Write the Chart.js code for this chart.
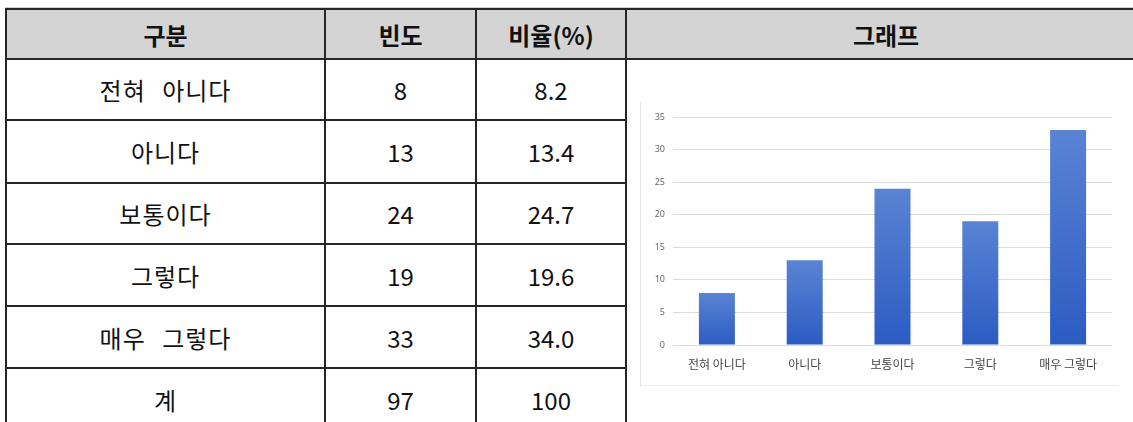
<!DOCTYPE html>
<html><head><meta charset="utf-8">
<script src="https://cdn.jsdelivr.net/npm/chart.js@4.4.1/dist/chart.umd.min.js"></script>
<style>
html,body{margin:0;padding:0;background:#fff;width:1133px;height:422px;overflow:hidden;position:relative;font-family:"Noto Sans CJK KR","Noto Sans",sans-serif;}
#topline{position:absolute;left:5px;top:7px;width:1140px;height:1px;background:#cfcfcf;}
table{position:absolute;left:5px;top:8px;border-collapse:collapse;table-layout:fixed;width:1140px;}
td,th{border:2px solid #262626;text-align:center;vertical-align:middle;padding:0;color:#111;font-size:24px;}
th{background:#d4d4d4;font-weight:700;}
td{font-weight:400;}
td.lab{word-spacing:10px;letter-spacing:1px;}
tr.last td{border-bottom:none;}
#chartBox{position:absolute;left:640px;top:102px;width:477px;height:283px;border-left:1px solid #e4e4e4;border-bottom:1px solid #ececec;background:#fff;}
</style></head>
<body>
<div id="topline"></div>
<table id="tbl">
<colgroup><col style="width:319px"><col style="width:151px"><col style="width:150px"><col style="width:520px"></colgroup>
<thead><tr style="height:50px"><th>구분</th><th>빈도</th><th>비율(%)</th><th>그래프</th></tr></thead>
<tbody id="tb"></tbody>
</table>
<div id="chartBox"><canvas id="c"></canvas></div>
<script>
const categories = ["전혀 아니다","아니다","보통이다","그렇다","매우 그렇다"];
const frequency = [8,13,24,19,33];
const percent = ["8.2","13.4","24.7","19.6","34.0"];
const totalLabel = "계";
const totalFrequency = "97";
const totalPercent = "100";
const rowHeights = [61,63,61,62,62,62];

const tb = document.getElementById('tb');
categories.forEach((c,i)=>{
  const tr = document.createElement('tr');
  tr.style.height = rowHeights[i]+'px';
  tr.innerHTML = `<td class="lab">${c}</td><td>${frequency[i]}</td><td>${percent[i]}</td>` + (i===0?`<td rowspan="6" style="border-bottom:none"></td>`:'');
  tb.appendChild(tr);
});
const trT = document.createElement('tr');
trT.className='last';
trT.style.height = rowHeights[5]+'px';
trT.innerHTML = `<td class="lab">${totalLabel}</td><td>${totalFrequency}</td><td>${totalPercent}</td>`;
tb.appendChild(trT);

function barGradient(ctx){
  const chart = ctx.chart;
  const ys = chart.scales && chart.scales.y;
  if(!ys || ctx.dataIndex===undefined) return '#3d6cc9';
  const v = ctx.raw ?? 0;
  const top = ys.getPixelForValue(v), bot = ys.getPixelForValue(0);
  if(!isFinite(top) || !isFinite(bot) || top===bot) return '#3d6cc9';
  const g = chart.ctx.createLinearGradient(0, top, 0, bot);
  g.addColorStop(0,'#5a83d3');
  g.addColorStop(1,'#2b5cc3');
  return g;
}

new Chart(document.getElementById('c'),{
  type:'bar',
  data:{labels:categories,datasets:[{data:frequency,backgroundColor:barGradient,borderWidth:0,barPercentage:0.41,categoryPercentage:1}]},
  options:{
    responsive:true,maintainAspectRatio:false,animation:false,
    layout:{padding:{top:15,right:6,left:0,bottom:0}},
    plugins:{legend:{display:false},tooltip:{enabled:false}},
    scales:{
      y:{min:0,max:35,ticks:{stepSize:5,color:'#6a6a6a',font:{size:9,family:'"Noto Sans","DejaVu Sans",sans-serif'},padding:8},
         grid:{color:'#dcdcdc',drawTicks:false},border:{display:false},
         afterFit(s){s.width=32;}},
      x:{grid:{display:false,drawTicks:false},border:{display:false},
         ticks:{color:'#444',font:{size:12,family:'"Noto Sans CJK KR",sans-serif'},padding:12},
         afterFit(s){s.height=40;}}
    }
  }
});
</script>
</body></html>
